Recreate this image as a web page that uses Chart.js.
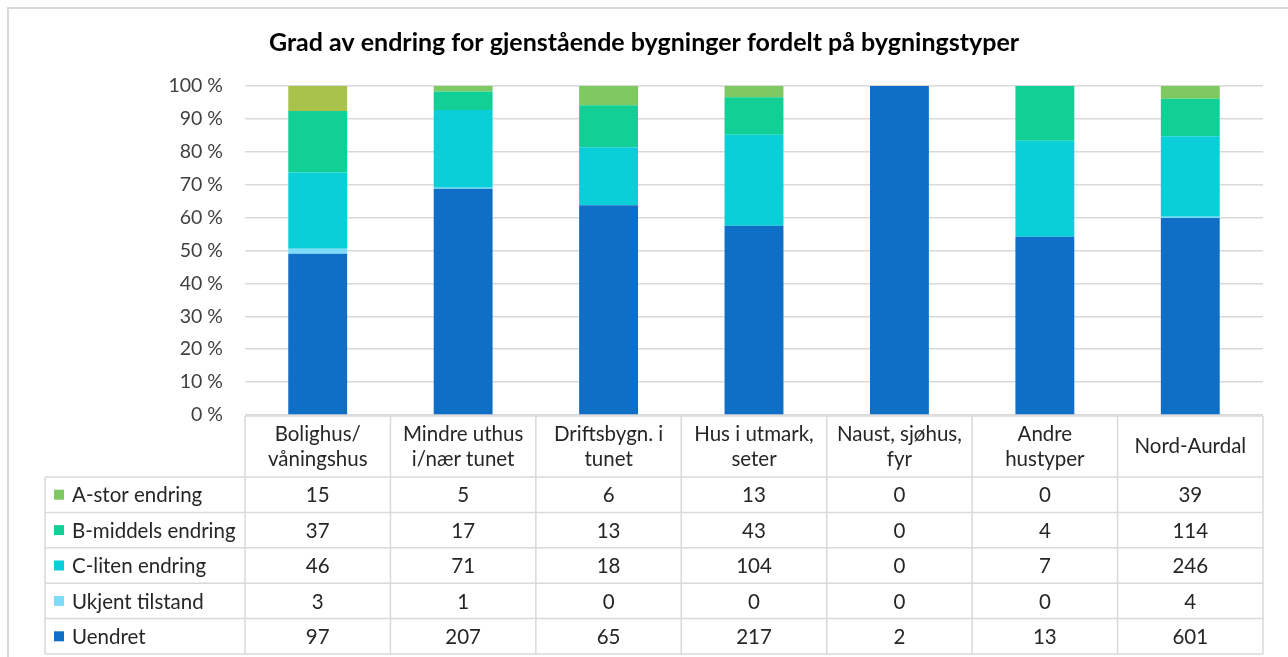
<!DOCTYPE html>
<html>
<head>
<meta charset="utf-8">
<script src="https://cdn.jsdelivr.net/npm/chart.js@4.4.0/dist/chart.umd.min.js"></script>
<style>
  html, body { margin: 0; padding: 0; background: #fff; }
  canvas { display: block; }
</style>
</head>
<body>
<canvas id="chart" width="1288" height="657"></canvas>
<script>
// building types (x categories), multi-line like the Excel table header
const categories = [
  ['Bolighus/', 'våningshus'],
  ['Mindre uthus', 'i/nær tunet'],
  ['Driftsbygn. i', 'tunet'],
  ['Hus i utmark,', 'seter'],
  ['Naust, sjøhus,', 'fyr'],
  ['Andre', 'hustyper'],
  ['Nord-Aurdal']
];

// counts per degree of change
const aStor    = [15, 5, 6, 13, 0, 0, 39];
const bMiddels = [37, 17, 13, 43, 0, 4, 114];
const cLiten   = [46, 71, 18, 104, 0, 7, 246];
const ukjent   = [3, 1, 0, 0, 0, 0, 4];
const uendret  = [97, 207, 65, 217, 2, 13, 601];

const title = 'Grad av endring for gjenstående bygninger fordelt på bygningstyper';
const font = "Lato, sans-serif";

const totals = categories.map((c, i) => aStor[i] + bMiddels[i] + cLiten[i] + ukjent[i] + uendret[i]);
const pct = arr => arr.map((v, i) => totals[i] ? v / totals[i] * 100 : 0);

// bottom of the stack first
const series = [
  { label: 'Uendret', data: uendret, color: '#0f6fc6' },
  { label: 'Ukjent tilstand', data: ukjent, color: '#7fdcf9' },
  { label: 'C-liten endring', data: cLiten, color: '#0bcfd8' },
  { label: 'B-middels endring', data: bMiddels, color: '#12cf96' },
  { label: 'A-stor endring', data: aStor, color: '#7ec962' }
];

// Excel table underneath the plot, with the legend keys in the first column
const dataTable = {
  id: 'dataTable',
  beforeDraw(chart) {
    const ctx = chart.ctx;
    ctx.save();
    ctx.fillStyle = '#fff';
    ctx.fillRect(0, 0, chart.width, chart.height);
    ctx.strokeStyle = '#d9d9d9';
    ctx.lineWidth = 2;
    ctx.beginPath();
    ctx.moveTo(7, 8); ctx.lineTo(chart.width, 8);
    ctx.moveTo(8, 7); ctx.lineTo(8, chart.height);
    ctx.stroke();
    ctx.restore();
  },
  afterDraw(chart) {
    const { ctx, chartArea } = chart;
    const x = chart.scales.x;
    const step = x.getPixelForValue(1) - x.getPixelForValue(0);
    const left = chartArea.left, right = chartArea.right;
    const headTop = chartArea.bottom + 1;
    const headBottom = headTop + 61;
    const rowH = 35.4;
    const legendLeft = 45;
    const rows = series.slice().reverse();
    const bottom = headBottom + rowH * rows.length;

    ctx.save();
    ctx.strokeStyle = '#d9d9d9';
    ctx.lineWidth = 1.5;
    ctx.beginPath();
    ctx.moveTo(left, headTop); ctx.lineTo(right, headTop);
    for (let r = 0; r <= rows.length; r++) {
      const y = headBottom + r * rowH;
      ctx.moveTo(legendLeft, y); ctx.lineTo(right, y);
    }
    ctx.moveTo(legendLeft, headBottom); ctx.lineTo(legendLeft, bottom);
    for (let i = 0; i <= categories.length; i++) {
      const xx = left + i * step;
      ctx.moveTo(xx, headTop); ctx.lineTo(xx, bottom);
    }
    ctx.stroke();

    ctx.fillStyle = '#262626';
    ctx.font = '20.5px ' + font;
    ctx.textAlign = 'center';
    ctx.textBaseline = 'middle';
    categories.forEach((lines, i) => {
      const cx = x.getPixelForValue(i);
      const mid = (headTop + headBottom) / 2;
      lines.forEach((t, k) => {
        const y = mid + (k - (lines.length - 1) / 2) * 25;
        ctx.fillText(t, cx, y);
      });
    });

    rows.forEach((s, r) => {
      const cy = headBottom + r * rowH + rowH / 2;
      ctx.fillStyle = s.color;
      ctx.fillRect(legendLeft + 9, cy - 5, 10, 10);
      ctx.fillStyle = '#262626';
      ctx.textAlign = 'left';
      ctx.fillText(s.label, legendLeft + 27, cy + 1);
      ctx.textAlign = 'center';
      s.data.forEach((v, i) => ctx.fillText(String(v), x.getPixelForValue(i), cy + 1));
    });
    ctx.restore();
  }
};

new Chart(document.getElementById('chart'), {
  type: 'bar',
  data: {
    labels: categories,
    datasets: series.map(s => ({
      label: s.label,
      data: pct(s.data),
      backgroundColor: s.label === 'A-stor endring'
        ? categories.map((c, i) => i === 0 ? '#a9c24a' : s.color)
        : s.color,
      borderWidth: 0,
      categoryPercentage: 1,
      barPercentage: 0.405
    }))
  },
  options: {
    responsive: false,
    animation: false,
    layout: { padding: { left: 0, right: 0, top: 0, bottom: 242 } },
    plugins: {
      legend: { display: false },
      tooltip: { enabled: false },
      title: {
        display: true,
        text: title,
        color: '#000',
        font: { family: font, size: 25, weight: 'bold' },
        padding: { top: 28, bottom: 28 }
      }
    },
    scales: {
      x: { stacked: true, display: false },
      y: {
        stacked: true,
        min: 0,
        max: 100,
        afterFit: s => { s.width = 245; },
        ticks: {
          stepSize: 10,
          padding: 22,
          color: '#404040',
          font: { family: font, size: 19.5 },
          callback: v => v + ' %'
        },
        grid: { color: '#d9d9d9', lineWidth: 1.5, drawTicks: false },
        border: { display: false }
      },
      // empty right margin so the title stays centred on the whole canvas
      yRight: {
        position: 'right',
        min: 0,
        max: 100,
        afterFit: s => { s.width = 25; },
        ticks: { display: false },
        grid: { drawOnChartArea: false, drawTicks: false },
        border: { display: false }
      }
    }
  },
  plugins: [dataTable]
});
</script>
</body>
</html>
